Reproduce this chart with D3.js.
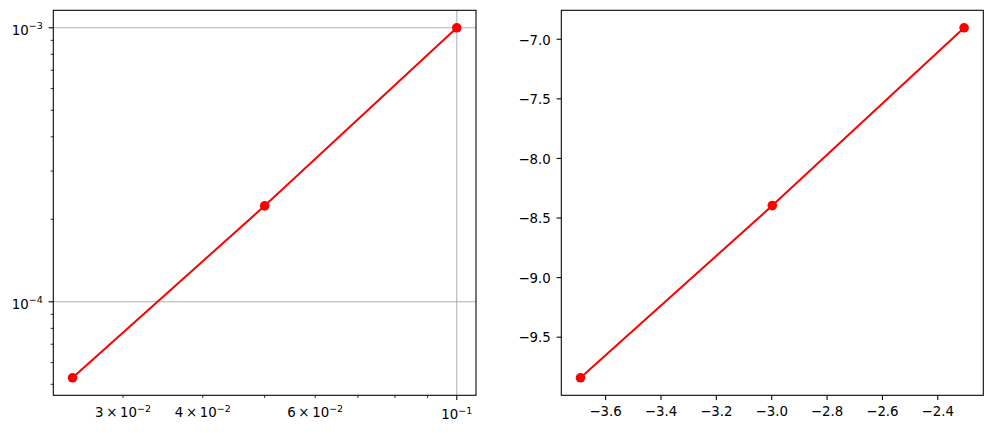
<!DOCTYPE html>
<html>
<head>
<meta charset="utf-8">
<script src="https://cdn.jsdelivr.net/npm/d3@7"></script>
<style>
  html, body { margin: 0; padding: 0; background: #fff; }
  svg { display: block; }
  text { font-family: "DejaVu Sans", sans-serif; font-size: 13.33px; fill: #000; }
</style>
</head>
<body>
<svg id="chart" width="993" height="433"></svg>
<script>
// ---- data ----
const stepSizes = [0.025, 0.05, 0.1];
const errors = [5.28e-5, 2.24e-4, 1.0e-3];
const logStepSizes = [-3.689, -2.996, -2.303];
const logErrors = [-9.845, -8.400, -6.908];

const leftXMajor = [0.1];
const leftXMinor = [0.03, 0.04, 0.05, 0.06, 0.07, 0.08, 0.09];
const leftXMinorLabels = { 0.03: ["3\u2009×\u200910", "\u22122"], 0.04: ["4\u2009×\u200910", "\u22122"], 0.06: ["6\u2009×\u200910", "\u22122"] };
const leftXMajorLabels = [["10", "\u22121"]];
const leftYMajor = [1e-4, 1e-3];
const leftYMajorLabels = [["10", "\u22124"], ["10", "\u22123"]];
const leftYMinor = [5e-5, 6e-5, 7e-5, 8e-5, 9e-5, 2e-4, 3e-4, 4e-4, 5e-4, 6e-4, 7e-4, 8e-4, 9e-4];
const rightXTicks = [-3.6, -3.4, -3.2, -3.0, -2.8, -2.6, -2.4];
const rightYTicks = [-9.5, -9.0, -8.5, -8.0, -7.5, -7.0];

const svg = d3.select("#chart");
const pTop = 10.3, pBottom = 395.3;
const L = { x0: 53.3, x1: 476 };
const R = { x0: 561.3, x1: 983.3 };
const red = "#ff0000";
const markerR = 4.8;

function padLog(vals) {
  const a = Math.log10(d3.min(vals)), b = Math.log10(d3.max(vals));
  const m = (b - a) * 0.05;
  return [Math.pow(10, a - m), Math.pow(10, b + m)];
}
function padLin(vals) {
  const a = d3.min(vals), b = d3.max(vals);
  const m = (b - a) * 0.05;
  return [a - m, b + m];
}

function supText(sel, base, sup) {
  sel.append("tspan").text(base);
  sel.append("tspan").attr("dy", "-5.2").style("font-size", "9.5px").text(sup);
}

// ---------------- Left (log-log) ----------------
const xL = d3.scaleLog().domain(padLog(stepSizes)).range([L.x0, L.x1]);
const yL = d3.scaleLog().domain(padLog(errors)).range([pBottom, pTop]);
const gL = svg.append("g");

// grid
gL.selectAll("line.gx").data(leftXMajor).enter().append("line")
  .attr("x1", d => xL(d)).attr("x2", d => xL(d)).attr("y1", pTop).attr("y2", pBottom)
  .attr("stroke", "#b0b0b0").attr("stroke-width", 1.07);
gL.selectAll("line.gy").data(leftYMajor).enter().append("line")
  .attr("y1", d => yL(d)).attr("y2", d => yL(d)).attr("x1", L.x0).attr("x2", L.x1)
  .attr("stroke", "#b0b0b0").attr("stroke-width", 1.07);

// ticks x
gL.selectAll("line.txM").data(leftXMajor).enter().append("line")
  .attr("x1", d => xL(d)).attr("x2", d => xL(d)).attr("y1", pBottom).attr("y2", pBottom + 4.67)
  .attr("stroke", "#000").attr("stroke-width", 1.07);
gL.selectAll("line.txm").data(leftXMinor).enter().append("line")
  .attr("x1", d => xL(d)).attr("x2", d => xL(d)).attr("y1", pBottom).attr("y2", pBottom + 2.67)
  .attr("stroke", "#000").attr("stroke-width", 0.8);
leftXMajor.forEach((d, i) => {
  const t = gL.append("text").attr("x", xL(d)).attr("y", 419).attr("text-anchor", "middle");
  supText(t, leftXMajorLabels[i][0], leftXMajorLabels[i][1]);
});
leftXMinor.forEach(d => {
  const lab = leftXMinorLabels[d];
  if (!lab) return;
  const t = gL.append("text").attr("x", xL(d)).attr("y", 416.8).attr("text-anchor", "middle");
  supText(t, lab[0], lab[1]);
});

// ticks y
gL.selectAll("line.tyM").data(leftYMajor).enter().append("line")
  .attr("y1", d => yL(d)).attr("y2", d => yL(d)).attr("x1", L.x0 - 4.67).attr("x2", L.x0)
  .attr("stroke", "#000").attr("stroke-width", 1.07);
gL.selectAll("line.tym").data(leftYMinor).enter().append("line")
  .attr("y1", d => yL(d)).attr("y2", d => yL(d)).attr("x1", L.x0 - 2.67).attr("x2", L.x0)
  .attr("stroke", "#000").attr("stroke-width", 0.8);
leftYMajor.forEach((d, i) => {
  const t = gL.append("text").attr("x", L.x0 - 10.5).attr("y", yL(d) + 6.7).attr("text-anchor", "end");
  supText(t, leftYMajorLabels[i][0], leftYMajorLabels[i][1]);
});

// line + markers
const lineL = d3.line().x((d, i) => xL(stepSizes[i])).y(d => yL(d));
gL.append("path").datum(errors).attr("d", lineL).attr("fill", "none")
  .attr("stroke", red).attr("stroke-width", 2);
gL.selectAll("circle").data(errors).enter().append("circle")
  .attr("cx", (d, i) => xL(stepSizes[i])).attr("cy", d => yL(d)).attr("r", markerR).attr("fill", red);

gL.append("rect").attr("x", L.x0).attr("y", pTop).attr("width", L.x1 - L.x0).attr("height", pBottom - pTop)
  .attr("fill", "none").attr("stroke", "#000").attr("stroke-width", 1.07);

// ---------------- Right (linear of logs) ----------------
const xR = d3.scaleLinear().domain(padLin(logStepSizes)).range([R.x0, R.x1]);
const yR = d3.scaleLinear().domain(padLin(logErrors)).range([pBottom, pTop]);
const gR = svg.append("g");

const fmt = d => (d < 0 ? "\u2212" : "") + Math.abs(d).toFixed(1);
gR.append("g").attr("transform", `translate(0,${pBottom})`)
  .call(d3.axisBottom(xR).tickValues(rightXTicks).tickSize(4.67).tickPadding(4.67).tickFormat(fmt))
  .call(g => g.select(".domain").remove())
  .call(g => g.selectAll("line").attr("stroke-width", 1.07))
  .call(g => g.selectAll("text").attr("y", 20.7).attr("dy", null));
gR.append("g").attr("transform", `translate(${R.x0},0)`)
  .call(d3.axisLeft(yR).tickValues(rightYTicks).tickSize(4.67).tickPadding(4.67).tickFormat(fmt))
  .call(g => g.select(".domain").remove())
  .call(g => g.selectAll("line").attr("stroke-width", 1.07))
  .call(g => g.selectAll("text").attr("x", -10.5).attr("dy", "5.3"));
gR.selectAll("g").attr("font-size", null).attr("font-family", null);
gR.selectAll(".tick text").style("font-size", "13.33px").style("font-family", "'DejaVu Sans', sans-serif").attr("fill", "#000");

const lineR = d3.line().x((d, i) => xR(logStepSizes[i])).y(d => yR(d));
gR.append("path").datum(logErrors).attr("d", lineR).attr("fill", "none")
  .attr("stroke", red).attr("stroke-width", 2);
gR.selectAll("circle").data(logErrors).enter().append("circle")
  .attr("cx", (d, i) => xR(logStepSizes[i])).attr("cy", d => yR(d)).attr("r", markerR).attr("fill", red);

gR.append("rect").attr("x", R.x0).attr("y", pTop).attr("width", R.x1 - R.x0).attr("height", pBottom - pTop)
  .attr("fill", "none").attr("stroke", "#000").attr("stroke-width", 1.07);
</script>
</body>
</html>
